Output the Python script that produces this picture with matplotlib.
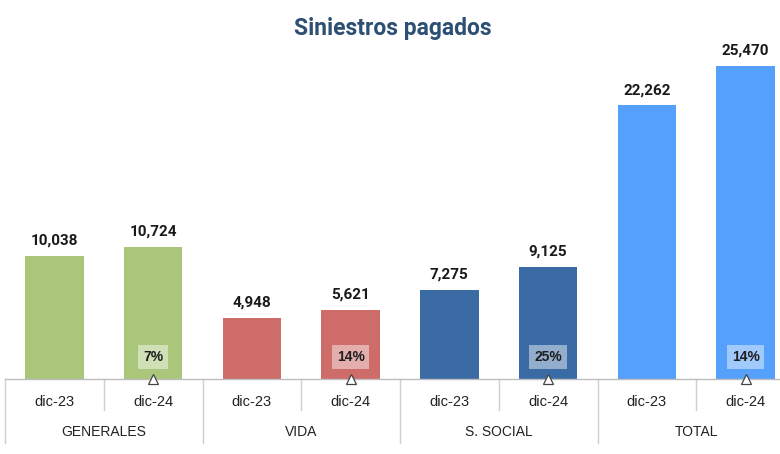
import matplotlib.pyplot as plt
import matplotlib.transforms as mtransforms

# Data
groups = ['GENERALES', 'VIDA', 'S. SOCIAL', 'TOTAL']
periods = ['dic-23', 'dic-24']
values = [10038, 10724, 4948, 5621, 7275, 9125, 22262, 25470]
growth = ['7%', '14%', '25%', '14%']
colors = ['#a9c67b', '#cd6c69', '#3b6ba5', '#55a0fa']

plt.rcParams['font.family'] = ['Roboto', 'DejaVu Sans']
lab_font = ['Liberation Sans', 'DejaVu Sans']

W, H = 780, 454
fig = plt.figure(figsize=(W / 100, H / 100), dpi=100)

# axes: baseline at y=379px, slot width ~98.7px starting at x=5px
base_px = 379
top_px = 20
ax = fig.add_axes([5 / W, (H - base_px) / H, 790 / W, (base_px - top_px) / H])
px_per_unit = 313 / 25470.0
ax.set_ylim(0, (base_px - top_px) / px_per_unit)
ax.set_xlim(-0.5, 7.5)
ax.axis('off')

x = list(range(len(values)))
bar_colors = [colors[i // 2] for i in x]
ax.bar(x, values, width=0.59, color=bar_colors, zorder=2)

for xi, v in zip(x, values):
    ax.annotate(f'{v:,}', (xi, v), xytext=(0, 6), textcoords='offset points',
                ha='center', va='bottom', fontsize=11, fontweight='bold',
                color='#1a1a1a')

# growth boxes on dic-24 bars
ypct = 22 / px_per_unit
for g in range(len(groups)):
    xi = 2 * g + 1
    ax.text(xi, ypct, growth[g], ha='center', va='center', fontsize=10,
            fontweight='bold', color='#1f1f1f', zorder=4, family=lab_font,
            bbox=dict(boxstyle='square,pad=0.35', fc='white', ec='none',
                      alpha=0.45))
    ax.plot(xi, 0.4 / px_per_unit, marker='^', ms=7, mfc='white',
            mec='#444444', mew=0.9, zorder=5, clip_on=False)

# axis line and separators below
trans = mtransforms.blended_transform_factory(ax.transData, ax.transAxes)
ah = base_px - top_px
ax.plot([-0.5, 7.5], [0, 0], color='#bdbdbd', lw=1, transform=trans,
        clip_on=False, zorder=3)
for k in range(9):
    xs = k - 0.5
    depth = 64 if k % 2 == 0 else 31
    ax.plot([xs, xs], [0, -depth / ah], color='#cfcfcf', lw=1,
            transform=trans, clip_on=False)

for xi in x:
    ax.text(xi, -23 / ah, periods[xi % 2], ha='center', va='center',
            fontsize=10.5, color='#222222', transform=trans, family=lab_font)
for g, name in enumerate(groups):
    ax.text(2 * g + 0.5, -53 / ah, name, ha='center', va='center',
            fontsize=10, color='#222222', transform=trans, family=lab_font)

fig.text(393 / W, 1 - 28 / H, 'Siniestros pagados', ha='center', va='center',
         fontsize=16.5, fontweight='bold', color='#2c4f73')

fig.savefig('out.png', dpi=100)
